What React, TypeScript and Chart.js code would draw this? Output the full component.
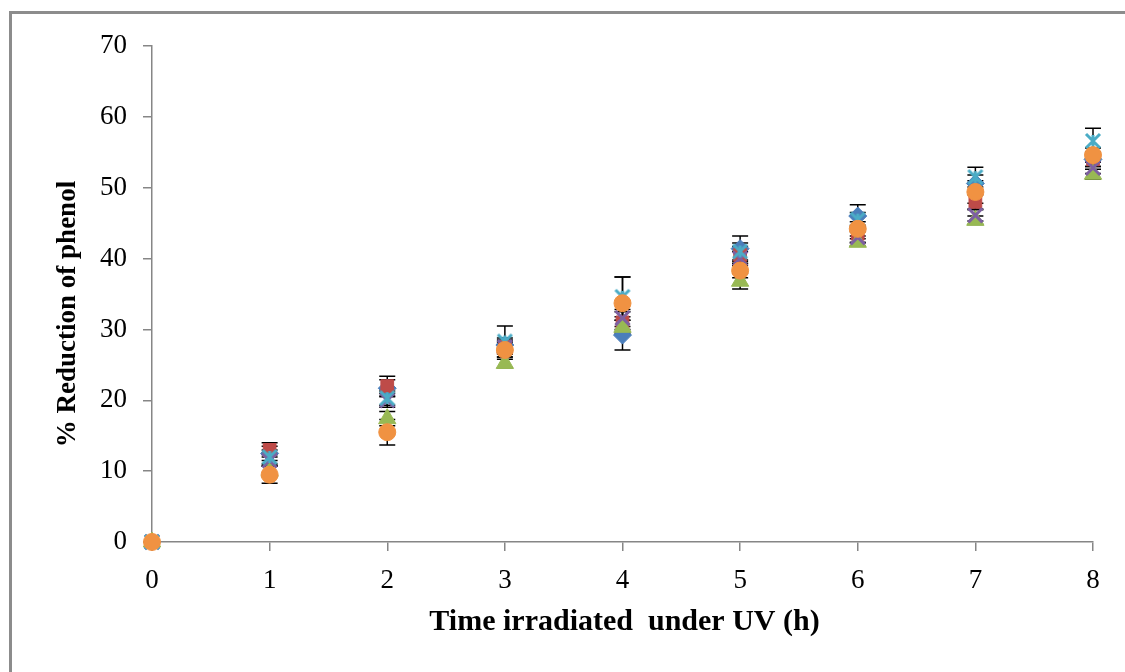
import React, { useEffect, useRef } from "react";
import { Chart, registerables } from "chart.js";

Chart.register(...registerables);

const times = [0, 1, 2, 3, 4, 5, 6, 7, 8];

const seriesBlue = [0, 12.5, 21.7, 27.8, 29.2, 41.4, 46.0, 50.6, 54.0];
const seriesRed = [0, 13.0, 22.0, 27.5, 31.0, 40.5, 43.5, 48.0, 54.0];
const seriesGreen = [0, 10.0, 17.4, 25.2, 30.3, 36.8, 42.3, 45.4, 51.9];
const seriesPurple = [0, 11.5, 20.0, 27.5, 31.6, 40.0, 43.0, 46.1, 52.8];
const seriesCyan = [0, 12.0, 20.3, 28.3, 34.6, 41.0, 45.5, 51.5, 56.6];
const seriesOrange = [0, 9.5, 15.5, 27.1, 33.7, 38.3, 44.2, 49.4, 54.6];

const errBlue = [0, 1.0, 1.2, 1.0, 2.1, 1.8, 1.6, 1.2, 1.0];
const errRed = [0, 1.0, 1.4, 1.0, 1.5, 1.2, 1.2, 1.0, 1.0];
const errGreen = [0, 0.8, 1.0, 0.6, 1.0, 1.1, 0.5, 0.6, 0.7];
const errPurple = [0, 0.8, 1.0, 0.8, 1.2, 1.0, 0.8, 0.8, 0.8];
const errCyan = [0, 1.0, 1.0, 2.2, 2.8, 1.2, 1.0, 1.4, 1.8];
const errOrange = [0, 1.2, 1.8, 1.0, 3.7, 1.0, 1.0, 1.6, 1.0];

const yTicks = [0, 10, 20, 30, 40, 50, 60, 70];

const xTitle = "Time irradiated  under UV (h)";
const yTitle = "% Reduction of phenol";

const SERIF = "'Liberation Serif', 'Times New Roman', serif";

function makeStar(color: string): HTMLCanvasElement {
  const c = document.createElement("canvas");
  c.width = 22;
  c.height = 22;
  const g = c.getContext("2d")!;
  g.strokeStyle = color;
  g.lineWidth = 3;
  g.lineCap = "butt";
  g.beginPath();
  g.moveTo(4, 4);
  g.lineTo(18, 18);
  g.moveTo(18, 4);
  g.lineTo(4, 18);
  g.moveTo(11, 5);
  g.lineTo(11, 17);
  g.stroke();
  return c;
}

const errorBarPlugin = {
  id: "errorBars",
  beforeDatasetsDraw(chart: any) {
    const ctx = chart.ctx;
    const yScale = chart.scales.y;
    ctx.save();
    ctx.strokeStyle = "#000000";
    ctx.lineWidth = 1.5;
    chart.data.datasets.forEach((ds: any, i: number) => {
      const meta = chart.getDatasetMeta(i);
      const errs: number[] = ds.errors || [];
      meta.data.forEach((pt: any, j: number) => {
        const e = errs[j];
        if (!e) return;
        const v = ds.data[j].y;
        const x = pt.x;
        const yTop = yScale.getPixelForValue(v + e);
        const yBot = yScale.getPixelForValue(v - e);
        ctx.beginPath();
        ctx.moveTo(x, yTop);
        ctx.lineTo(x, yBot);
        ctx.moveTo(x - 8, yTop);
        ctx.lineTo(x + 8, yTop);
        ctx.moveTo(x - 8, yBot);
        ctx.lineTo(x + 8, yBot);
        ctx.stroke();
      });
    });
    ctx.restore();
  },
};

const titlesPlugin = {
  id: "axisTitles",
  afterDraw(chart: any) {
    const ctx = chart.ctx;
    const area = chart.chartArea;
    ctx.save();
    ctx.fillStyle = "#000000";
    ctx.textAlign = "center";
    ctx.textBaseline = "middle";
    ctx.font = "bold 30px " + SERIF;
    ctx.fillText(xTitle, (area.left + area.right) / 2 + 2, 622);
    ctx.font = "bold 27px " + SERIF;
    ctx.translate(68, (area.top + area.bottom) / 2 + 20);
    ctx.rotate(-Math.PI / 2);
    ctx.fillText(yTitle, 0, 0);
    ctx.restore();
  },
};

export default function App() {
  const ref = useRef<HTMLCanvasElement | null>(null);

  useEffect(() => {
    if (!ref.current) return;
    const toXY = (arr: number[]) => arr.map((v, i) => ({ x: times[i], y: v }));
    const star = makeStar("#4BACC6");
    const chart = new Chart(ref.current, {
      type: "scatter",
      data: {
        datasets: [
          {
            label: "Blue",
            data: toXY(seriesBlue),
            errors: errBlue,
            pointStyle: "rectRot",
            pointRadius: 9,
            backgroundColor: "#4A7EBB",
            borderColor: "#4A7EBB",
            borderWidth: 1,
            order: 6,
            clip: false,
          },
          {
            label: "Red",
            data: toXY(seriesRed),
            errors: errRed,
            pointStyle: "rect",
            pointRadius: 9,
            backgroundColor: "#BE4B48",
            borderColor: "#BE4B48",
            borderWidth: 1,
            order: 5,
            clip: false,
          },
          {
            label: "Green",
            data: toXY(seriesGreen),
            errors: errGreen,
            pointStyle: "triangle",
            pointRadius: 10,
            backgroundColor: "#98B954",
            borderColor: "#98B954",
            borderWidth: 1,
            order: 4,
            clip: false,
          },
          {
            label: "Purple",
            data: toXY(seriesPurple),
            errors: errPurple,
            pointStyle: "crossRot",
            pointRadius: 10,
            backgroundColor: "#7D60A0",
            borderColor: "#7D60A0",
            borderWidth: 3,
            order: 3,
            clip: false,
          },
          {
            label: "Cyan",
            data: toXY(seriesCyan),
            errors: errCyan,
            pointStyle: star,
            pointRadius: 10,
            backgroundColor: "#4BACC6",
            borderColor: "#4BACC6",
            order: 2,
            clip: false,
          },
          {
            label: "Orange",
            data: toXY(seriesOrange),
            errors: errOrange,
            pointStyle: "circle",
            pointRadius: 8.5,
            backgroundColor: "#F09242",
            borderColor: "#F09242",
            borderWidth: 1,
            order: 1,
            clip: false,
          },
        ] as any,
      },
      options: {
        animation: false,
        responsive: false,
        devicePixelRatio: 1,
        layout: { padding: { top: 46, right: 32, left: 0, bottom: 0 } },
        plugins: {
          legend: { display: false },
          tooltip: { enabled: false },
        },
        scales: {
          x: {
            type: "linear",
            min: 0,
            max: 8,
            afterFit: (s: any) => {
              s.height = 130;
            },
            afterBuildTicks: (s: any) => {
              s.ticks = times.map((v) => ({ value: v }));
            },
            ticks: {
              color: "#000000",
              padding: 14,
              font: { family: SERIF, size: 27 },
              maxRotation: 0,
            },
            grid: {
              drawOnChartArea: false,
              drawTicks: true,
              tickLength: 9,
              color: "#868686",
              lineWidth: 1.5,
            },
            border: { display: true, color: "#868686", width: 1.5 },
          },
          y: {
            type: "linear",
            min: 0,
            max: 70,
            afterFit: (s: any) => {
              s.width = 152;
            },
            afterBuildTicks: (s: any) => {
              s.ticks = yTicks.map((v) => ({ value: v }));
            },
            ticks: {
              color: "#000000",
              padding: 16,
              font: { family: SERIF, size: 27 },
            },
            grid: {
              drawOnChartArea: false,
              drawTicks: true,
              tickLength: 9,
              color: "#868686",
              lineWidth: 1.5,
            },
            border: { display: true, color: "#868686", width: 1.5 },
          },
        },
      },
      plugins: [errorBarPlugin, titlesPlugin],
    });
    return () => chart.destroy();
  }, []);

  return (
    <div
      style={{
        position: "absolute",
        left: 0,
        top: 0,
        width: 1125,
        height: 672,
        background: "#ffffff",
        overflow: "hidden",
      }}
    >
      <canvas ref={ref} width={1125} height={672} style={{ display: "block" }} />
      <div
        style={{
          position: "absolute",
          left: 9,
          top: 11,
          width: 1200,
          height: 800,
          borderLeft: "3px solid #8c8c8c",
          borderTop: "3px solid #8c8c8c",
          pointerEvents: "none",
        }}
      />
    </div>
  );
}
